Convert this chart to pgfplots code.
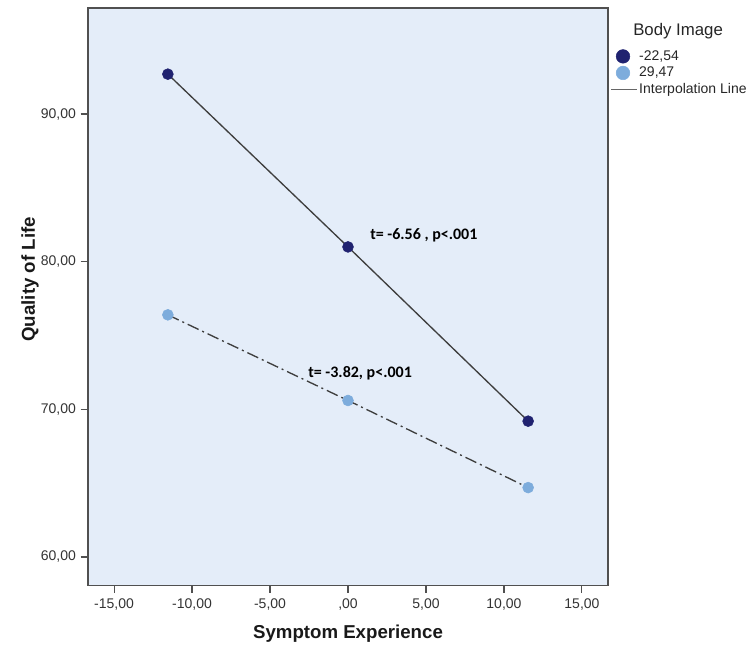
\documentclass[border=0pt]{standalone}
\usepackage{fontspec}
\setmainfont{Liberation Sans}
\newfontfamily\calibri{Carlito}
\usepackage{pgfplots}
\pgfplotsset{compat=1.18}
\definecolor{bgblue}{RGB}{228,237,249}
\definecolor{darkpt}{RGB}{32,34,112}
\definecolor{lightpt}{RGB}{125,172,220}
\definecolor{linegray}{RGB}{62,62,62}
\definecolor{frame}{RGB}{80,80,80}
\pgfplotsset{
  markleg/.style={legend image code/.code={\path[draw=none, fill=none] (0pt,0pt) -- (19.5pt,0pt); \draw[##1, mark size=5.1pt] plot coordinates {(9pt,0pt)};}},
  lineleg/.style={legend image code/.code={\draw[##1] (0pt,0pt) -- (19.5pt,0pt);}},
}
\begin{document}
\begin{tikzpicture}
\path[use as bounding box] (-66pt,-49.125pt) rectangle ++(562.5pt,488.25pt);
\begin{axis}[
  at={(0pt,0pt)}, anchor=south west,
  scale only axis, width=390pt, height=433.125pt,
  xmin=-16.67, xmax=16.67, ymin=58.07, ymax=97.18,
  axis background/.style={fill=bgblue},
  axis line style={draw=frame, line width=0.8pt},
  xtick={-15,-10,-5,0,5,10,15},
  xticklabels={{-15,00},{-10,00},{-5,00},{,00},{5,00},{10,00},{15,00}},
  ytick={60,70,80,90},
  yticklabels={{60,00},{70,00},{80,00},{90,00}},
  tick align=outside, major tick length=5.5pt,
  tick style={draw=frame, line width=0.8pt},
  xtick pos=bottom, ytick pos=left,
  ticklabel style={font=\fontsize{10.5}{12}\selectfont, text=black!80},
  xticklabel style={yshift=-0.8pt},
  xlabel={Symptom Experience}, ylabel={Quality of Life},
  every axis x label/.style={at={(axis description cs:0.5,-0.084)}, anchor=center,
    font=\bfseries\fontsize{14}{16}\selectfont, text=black!90},
  every axis y label/.style={at={(axis description cs:-0.1115,0.53)}, rotate=90, anchor=center,
    font=\bfseries\fontsize{14}{16}\selectfont, text=black!90},
  clip=false,
  legend style={at={(axis description cs:1,1)}, anchor=north west, xshift=1.5pt, yshift=-29.9pt,
    draw=none, fill=none, inner sep=0pt, row sep=0pt,
    font=\fontsize{10.5}{12}\selectfont,
    nodes={text height=7.8pt, text depth=2.4pt, inner sep=1.1pt, text=black!85}},
  legend cell align=left,
]
\addplot[linegray, line width=1pt, forget plot] coordinates {(-11.55,92.7) (0,81.0) (11.55,69.2)};
\addplot[linegray, line width=1pt, dash pattern=on 9pt off 3pt on 1.5pt off 3pt, forget plot] coordinates {(-11.55,76.4) (0,70.6) (11.55,64.7)};
\addplot[only marks, mark=*, mark size=4.1pt, mark options={draw=darkpt, fill=darkpt}, markleg] coordinates {(-11.55,92.7) (0,81.0) (11.55,69.2)};
\addlegendentry{-22,54}
\addplot[only marks, mark=*, mark size=4.1pt, mark options={draw=lightpt, fill=lightpt}, markleg] coordinates {(-11.55,76.4) (0,70.6) (11.55,64.7)};
\addlegendentry{29,47}
\addlegendimage{draw=black!60, line width=1.1pt, lineleg}
\addlegendentry{Interpolation Line}
\node[font=\calibri\bfseries\fontsize{12}{14}\selectfont, anchor=west, inner sep=0pt] at (axis cs:1.41,81.76) {t= -6.56 , p<.001};
\node[font=\calibri\bfseries\fontsize{12}{14}\selectfont, anchor=west, inner sep=0pt] at (axis cs:-2.56,72.42) {t= -3.82, p<.001};
\node[font=\fontsize{12.6}{14}\selectfont, text=black!85, anchor=west, inner sep=0pt] at (axis description cs:1,0.96) [xshift=18.75pt] {Body Image};
\end{axis}
\end{tikzpicture}
\end{document}
